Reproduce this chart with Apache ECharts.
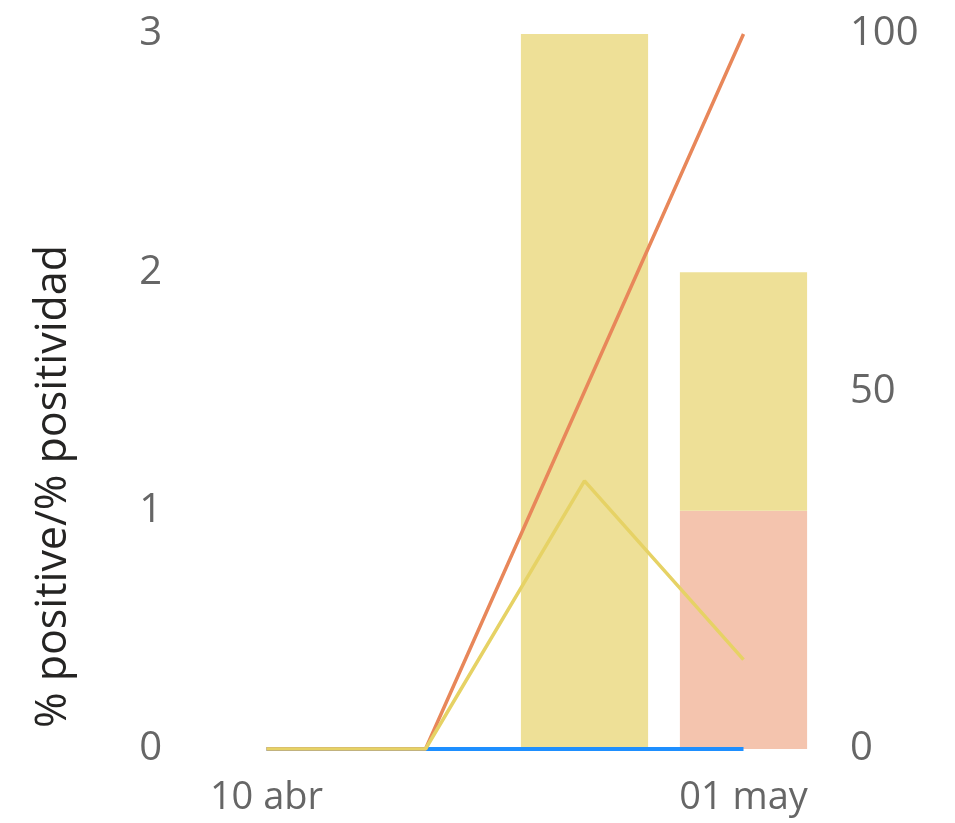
<!DOCTYPE html>
<html><head><meta charset="utf-8">
<script src="https://cdn.jsdelivr.net/npm/echarts@6/dist/echarts.min.js"></script>
<style>html,body{margin:0;padding:0;background:#fff}#c{width:955px;height:823px}</style>
</head><body><div id="c"></div>
<script>
const categories = ['10 abr', '17 abr', '24 abr', '01 may'];
const barSalmon = [0, 0, 0, 1];
const barYellow = [0, 0, 3, 1];
const lineBlue = [0, 0, 0, 0];
const lineOrange = [0, 0, 50, 100];
const lineYellow = [0, 0, 37.5, 12.5];
const leftTicks = [0, 1, 2, 3];
const rightTicks = [0, 50, 100];

const font = '"Open Sans", "Noto Sans", sans-serif';
const chart = echarts.init(document.getElementById('c'), null, {renderer: 'canvas'});
chart.setOption({
  animation: false,
  grid: {left: 187, right: 132, top: 34, bottom: 74},
  xAxis: {
    type: 'category', data: categories, boundaryGap: true,
    axisLine: {show: false}, axisTick: {show: false}, splitLine: {show: false},
    axisLabel: {interval: 2, color: '#666666', fontSize: 38, fontFamily: font, margin: 30}
  },
  yAxis: [{
    type: 'value', min: leftTicks[0], max: leftTicks[leftTicks.length - 1], interval: 1,
    axisLine: {show: false}, axisTick: {show: false}, splitLine: {show: false},
    axisLabel: {color: '#666666', fontSize: 40, fontFamily: font, margin: 25, verticalAlign: 'middle', lineHeight: 40, padding: [8, 0, 0, 0]},
    name: '% positive/% positividad', nameLocation: 'middle', nameGap: 112,
    nameTextStyle: {color: '#252423', fontSize: 43, fontFamily: font, padding: [0, 190, 0, 0]}
  }, {
    type: 'value', min: rightTicks[0], max: rightTicks[rightTicks.length - 1], interval: 50,
    axisLine: {show: false}, axisTick: {show: false}, splitLine: {show: false},
    axisLabel: {color: '#666666', fontSize: 40, fontFamily: font, margin: 27, verticalAlign: 'middle', lineHeight: 40, padding: [8, 0, 0, 0]}
  }],
  series: [
    {name: 'positive', type: 'bar', stack: 'a', yAxisIndex: 0, data: barSalmon, barWidth: '80%',
     itemStyle: {color: '#F4C4AE'}},
    {name: 'positividad', type: 'bar', stack: 'a', yAxisIndex: 0, data: barYellow, barWidth: '80%',
     itemStyle: {color: '#EEE097'}},
    {name: 'blue', type: 'line', yAxisIndex: 1, data: lineBlue, symbol: 'none',
     lineStyle: {color: '#1E8FFF', width: 4}},
    {name: 'orange', type: 'line', yAxisIndex: 1, data: lineOrange, symbol: 'none',
     lineStyle: {color: '#E8875A', width: 3.5}},
    {name: 'yellow', type: 'line', yAxisIndex: 1, data: lineYellow, symbol: 'none',
     lineStyle: {color: '#E6D265', width: 3.5}}
  ]
});
</script></body></html>
